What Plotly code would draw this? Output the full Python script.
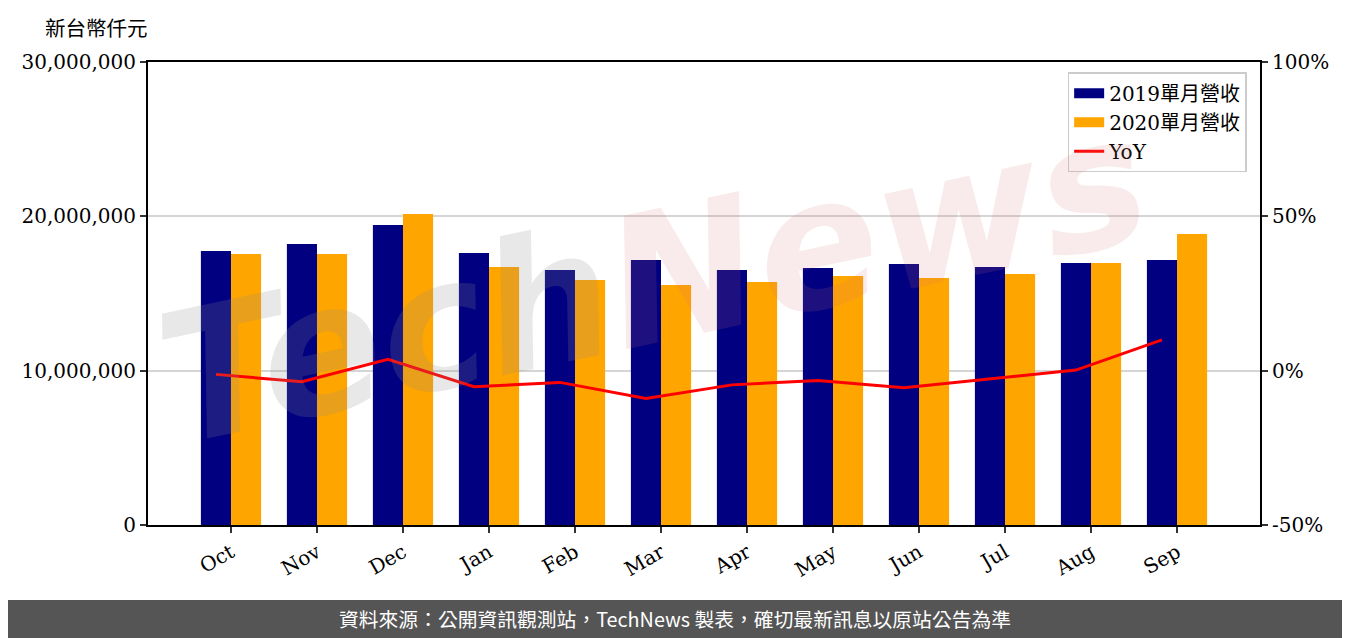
import plotly.graph_objects as go

# 月份與營收（新台幣仟元）
months = ["Oct", "Nov", "Dec", "Jan", "Feb", "Mar", "Apr", "May", "Jun", "Jul", "Aug", "Sep"]
rev_2019 = [17750000, 18210000, 19440000, 17620000, 16520000, 17170000,
            16520000, 16650000, 16910000, 16720000, 16980000, 17170000]
rev_2020 = [17560000, 17560000, 20150000, 16720000, 15870000, 15550000,
            15750000, 16130000, 16000000, 16260000, 16980000, 18860000]
yoy = [-1.2, -3.6, 3.7, -5.2, -3.8, -9.0, -4.6, -3.2, -5.5, -2.7, 0.2, 10.0]

y_ticks = [0, 10000000, 20000000, 30000000]
y2_ticks = [-50, 0, 50, 100]
y2_labels = ["-50%", "0%", "50%", "100%"]

SERIF = "DejaVu Serif, Noto Sans CJK TC"
CJK = "Noto Sans CJK TC"
NAVY = "#000080"
ORANGE = "#FFA500"

fig = go.Figure()

fig.add_trace(go.Bar(x=months, y=rev_2019, name="2019單月營收", showlegend=False,
                     marker=dict(color=NAVY, line=dict(width=0))))
fig.add_trace(go.Bar(x=months, y=rev_2020, name="2020單月營收", showlegend=False,
                     marker=dict(color=ORANGE, line=dict(width=0))))
# YoY 線畫在 2019 柱中心（用偏移的 x2 軸）
fig.add_trace(go.Scatter(x=months, y=yoy, name="YoY", mode="lines", showlegend=False,
                         line=dict(color="red", width=3),
                         xaxis="x2", yaxis="y2"))

# 圖例用的色塊
for name, color, w in [("2019單月營收", NAVY, 16), ("2020單月營收", ORANGE, 16), ("YoY", "red", 3)]:
    fig.add_trace(go.Scatter(x=[None], y=[None], name=name, mode="lines",
                             line=dict(color=color, width=w)))

half_bar = 0.175
x_range = [-0.965, 11.965]
tick_font = dict(family=SERIF, size=20)

fig.update_layout(
    width=1342, height=630,
    margin=dict(l=140, r=90, t=54, b=113),
    paper_bgcolor="white", plot_bgcolor="white",
    barmode="group", bargap=0.3, bargroupgap=0,
    font=dict(family=SERIF, size=18, color="black"),
    showlegend=True,
    legend=dict(x=0.988, y=0.978, xanchor="right", yanchor="top",
                bgcolor="rgba(255,255,255,0.8)", bordercolor="#cccccc",
                borderwidth=1.5, font=dict(family=SERIF, size=20)),
    xaxis=dict(type="category", range=x_range,
               showline=True, linecolor="black", linewidth=2, mirror=True,
               ticks="outside", ticklen=6, tickwidth=1.5, tickcolor="#333",
               tickangle=-30, tickfont=tick_font),
    xaxis2=dict(type="category", overlaying="x", visible=False,
                range=[x_range[0] + half_bar, x_range[1] + half_bar]),
    yaxis=dict(range=[0, 30000000], tickvals=y_ticks, tickformat=",",
               showgrid=True, gridcolor="#d5d5d5", gridwidth=1.5,
               showline=True, linecolor="black", linewidth=2,
               ticks="outside", ticklen=6, tickwidth=1.5, tickcolor="#333",
               zeroline=False, tickfont=tick_font),
    yaxis2=dict(range=[-50, 100], tickvals=y2_ticks, ticktext=y2_labels,
                overlaying="y", side="right", anchor="x", showgrid=False,
                showline=True, linecolor="black", linewidth=2,
                ticks="outside", ticklen=6, tickwidth=1.5, tickcolor="#333",
                zeroline=False, tickfont=tick_font),
)

# 底部資料來源橫條
fig.add_shape(type="rect", xref="paper", yref="paper",
              x0=-0.2, x1=1.2, y0=-0.162, y1=-0.35,
              fillcolor="#555555", line=dict(width=0), layer="above")

fig.add_annotation(xref="paper", yref="paper", x=0.474, y=-0.203,
                   xanchor="center", yanchor="middle", showarrow=False,
                   text="資料來源：公開資訊觀測站，TechNews 製表，確切最新訊息以原站公告為準",
                   font=dict(family=CJK, size=19.8, color="white"))

# 左上單位
fig.add_annotation(xref="paper", yref="paper", x=-0.0944, y=1.0756,
                   xanchor="left", yanchor="middle", showarrow=False,
                   text="新台幣仟元", font=dict(family=CJK, size=20.5, color="black"))

# 浮水印
fig.add_annotation(xref="paper", yref="paper", x=0.455, y=0.53,
                   xanchor="center", yanchor="middle", showarrow=False,
                   textangle=-12,
                   text="<span style='color:rgba(140,140,140,0.2)'>Tech</span>"
                        "<span style='color:rgba(215,110,110,0.14)'>News</span>",
                   font=dict(family="DejaVu Sans", size=180, weight="bold", style="italic"))

fig.write_html("out.html")
